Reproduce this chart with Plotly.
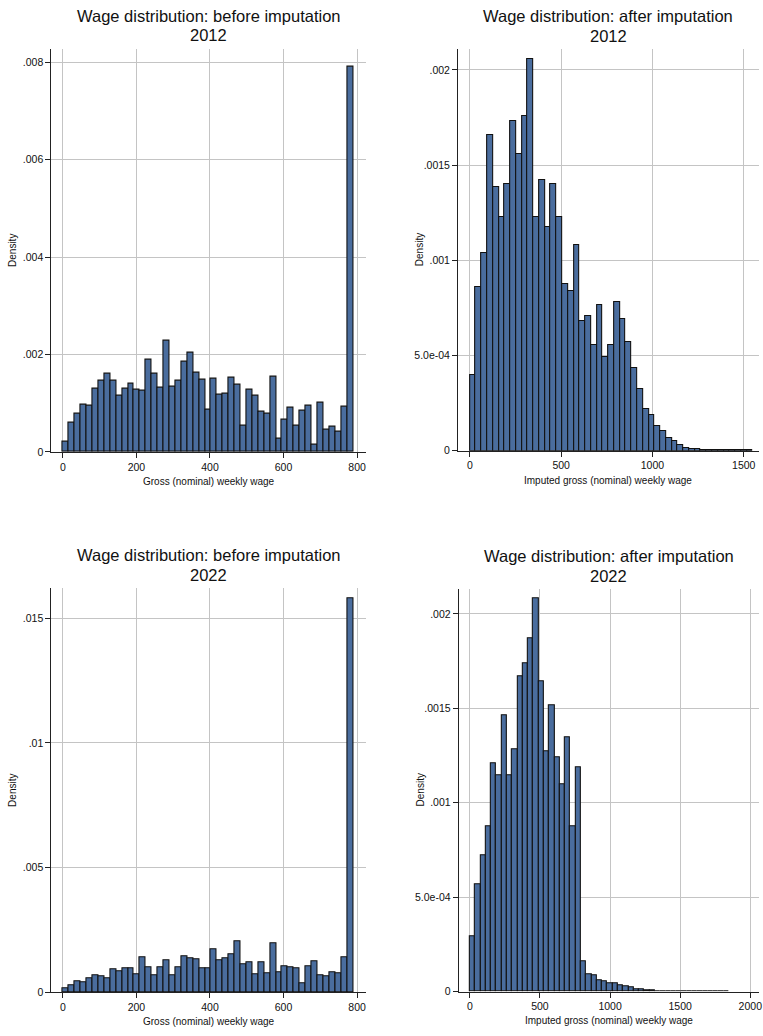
import numpy as np
import plotly.graph_objects as go

# ---------------- data ----------------
# bin starts and widths (wage units)
bins_2012_before = (0.0, 16.1)
bins_2012_after = (0.0, 31.6)
bins_2022_before = (0.0, 16.1)
bins_2022_after = (0.0, 37.7)

dens_2012_before = [
    0.00020, 0.00059, 0.00078, 0.00097, 0.00095, 0.00129, 0.00146, 0.00160, 0.00146, 0.00116,
    0.00129, 0.00140, 0.00127, 0.00125, 0.00190, 0.00160, 0.00132, 0.00228, 0.00134, 0.00147,
    0.00185, 0.00203, 0.00163, 0.00149, 0.00087, 0.00150, 0.00118, 0.00120, 0.00152, 0.00137,
    0.00054, 0.00127, 0.00116, 0.00083, 0.00079, 0.00154, 0.00026, 0.00067, 0.00091, 0.00054,
    0.00084, 0.00095, 0.00014, 0.00101, 0.00046, 0.00052, 0.00042, 0.00093, 0.00792,
]

dens_2012_after = [
    0.000397, 0.00086, 0.00104, 0.00166, 0.001385, 0.00123, 0.00140, 0.00173, 0.00156, 0.00176,
    0.00206, 0.00123, 0.00142, 0.001175, 0.00140, 0.00123, 0.000878, 0.00084, 0.00108, 0.00068,
    0.00071, 0.000557, 0.000767, 0.000493, 0.000557, 0.000779, 0.00069, 0.000571, 0.000432, 0.000324,
    0.000218, 0.000186, 0.000129, 0.000105, 0.000066, 0.000052, 0.000031, 0.000012, 0.000009, 0.000007,
    0.000005, 0.000003, 0.000002, 0.000002, 0.000001, 0.000002, 0.000001, 0.000002, 0.000002,
]

dens_2022_before = [
    0.00017, 0.00029, 0.00045, 0.00040, 0.00057, 0.00068, 0.00064, 0.00057, 0.00093, 0.00085,
    0.00098, 0.00095, 0.00074, 0.00139, 0.00099, 0.00068, 0.00099, 0.00127, 0.00068, 0.00099,
    0.00143, 0.00135, 0.00131, 0.00095, 0.00098, 0.00171, 0.00130, 0.00135, 0.00153, 0.00206,
    0.00114, 0.00121, 0.00070, 0.00121, 0.00078, 0.00195, 0.00080, 0.00103, 0.00099, 0.00097,
    0.00036, 0.00103, 0.00123, 0.00066, 0.00064, 0.00080, 0.00078, 0.00139, 0.01580,
]

dens_2022_after = [
    0.000295, 0.00057, 0.000723, 0.000874, 0.00121, 0.001144, 0.001465, 0.001147, 0.001284, 0.001668,
    0.001737, 0.001868, 0.002084, 0.001642, 0.00127, 0.001516, 0.00124, 0.001095, 0.001346, 0.000877,
    0.00119, 0.000158, 0.0000912, 0.000086, 0.00006, 0.0000526, 0.0000456, 0.000042, 0.0000333, 0.000028,
    0.000021, 0.0000123, 0.0000105, 0.000007, 0.000005, 0.000004, 0.000003, 0.000003, 0.000002, 0.000001,
    0.0, 0.0, 0.0, 0.0, 0.000002, 0.0, 0.0, 0.0, 0.000001,
]

ticks_before_2012 = [0, 0.002, 0.004, 0.006, 0.008]
ticklab_before_2012 = ["0", ".002", ".004", ".006", ".008"]
ticks_after = [0, 0.0005, 0.001, 0.0015, 0.002]
ticklab_after = ["0", "5.0e-04", ".001", ".0015", ".002"]
ticks_before_2022 = [0, 0.005, 0.01, 0.015]
ticklab_before_2022 = ["0", ".005", ".01", ".015"]
xticks_before = [0, 200, 400, 600, 800]
xticks_after_2012 = [0, 500, 1000, 1500]
xticks_after_2022 = [0, 500, 1000, 1500, 2000]

title_before = "Wage distribution: before imputation"
title_after = "Wage distribution: after imputation"
xtitle_before = "Gross (nominal) weekly wage"
xtitle_after = "Imputed gross (nominal) weekly wage"
ytitle = "Density"

# ---------------- layout helpers ----------------
W, H = 763, 1036
FONT = "Liberation Sans, Arial, sans-serif"
BAR_FILL = "#4a6d9e"
GRID = "#c4c4c4"


def fx(a):
    return a / W


def fy(a):
    return 1 - a / H


panels = [
    dict(vals=dens_2012_before, bins=bins_2012_before, xd=(51.7, 367), yd=(49, 454.5),
         xr=(-31, 823), yr=(0, 0.00828), ytv=ticks_before_2012, ytt=ticklab_before_2012,
         xtv=xticks_before, t1=title_before, t2="2012", xt=xtitle_before),
    dict(vals=dens_2012_after, bins=bins_2012_after, xd=(460, 761.7), yd=(49.3, 453.3),
         xr=(-64, 1582), yr=(0, 0.00211), ytv=ticks_after, ytt=ticklab_after,
         xtv=xticks_after_2012, t1=title_after, t2="2012", xt=xtitle_after),
    dict(vals=dens_2022_before, bins=bins_2022_before, xd=(51.7, 367), yd=(591.7, 998),
         xr=(-31, 823), yr=(0, 0.0162), ytv=ticks_before_2022, ytt=ticklab_before_2022,
         xtv=xticks_before, t1=title_before, t2="2022", xt=xtitle_before),
    dict(vals=dens_2022_after, bins=bins_2022_after, xd=(460.7, 761.7), yd=(592.7, 997.3),
         xr=(-78, 2060), yr=(0, 0.00213), ytv=ticks_after, ytt=ticklab_after,
         xtv=xticks_after_2022, t1=title_after, t2="2022", xt=xtitle_after),
]

fig = go.Figure()
annotations = []
layout_axes = {}

for i, p in enumerate(panels, start=1):
    start, bw = p["bins"]
    n = len(p["vals"])
    centers = start + bw * (np.arange(n) + 0.5)
    sfx = "" if i == 1 else str(i)
    fig.add_trace(go.Bar(
        x=centers, y=p["vals"], width=bw,
        marker=dict(color=BAR_FILL, line=dict(color="#111111", width=1.1)),
        xaxis="x" + sfx, yaxis="y" + sfx, showlegend=False, hoverinfo="x+y",
    ))
    layout_axes["xaxis" + sfx] = dict(
        domain=[fx(p["xd"][0]), fx(p["xd"][1])], anchor="y" + sfx,
        range=list(p["xr"]), tickvals=p["xtv"], ticktext=[str(v) for v in p["xtv"]],
        showgrid=True, gridcolor=GRID, gridwidth=1, zeroline=False,
        showline=True, linecolor="#222222", linewidth=1.3,
        ticks="outside", ticklen=5, tickcolor="#222222", tickwidth=1,
        ticklabeloverflow="allow",
        tickfont=dict(family=FONT, size=10.5, color="#111111"),
    )
    layout_axes["yaxis" + sfx] = dict(
        domain=[fy(p["yd"][1]), fy(p["yd"][0])], anchor="x" + sfx,
        range=list(p["yr"]), tickvals=p["ytv"], ticktext=p["ytt"],
        showgrid=True, gridcolor=GRID, gridwidth=1, zeroline=False,
        showline=True, linecolor="#222222", linewidth=1.3,
        ticks="outside", ticklen=5, tickcolor="#222222", tickwidth=1,
        tickfont=dict(family=FONT, size=10.5, color="#111111"),
    )
    cx = fx((p["xd"][0] + p["xd"][1]) / 2)
    top = p["yd"][0]
    bottom = p["yd"][1]
    annotations.append(dict(text=p["t1"], x=cx, y=fy(top - 33), xref="paper", yref="paper",
                            showarrow=False, xanchor="center", yanchor="middle",
                            font=dict(family=FONT, size=16.5, color="#111111")))
    annotations.append(dict(text=p["t2"], x=cx, y=fy(top - 13.5), xref="paper", yref="paper",
                            showarrow=False, xanchor="center", yanchor="middle",
                            font=dict(family=FONT, size=16.5, color="#111111")))
    annotations.append(dict(text=p["xt"], x=cx, y=fy(bottom + 29.5), xref="paper", yref="paper",
                            showarrow=False, xanchor="center", yanchor="middle",
                            font=dict(family=FONT, size=10, color="#111111")))
    annotations.append(dict(text=ytitle, x=fx(p["xd"][0] - 39), y=fy((top + bottom) / 2),
                            xref="paper", yref="paper", textangle=-90,
                            showarrow=False, xanchor="center", yanchor="middle",
                            font=dict(family=FONT, size=10, color="#111111")))

fig.update_layout(
    width=W, height=H, margin=dict(l=0, r=0, t=0, b=0),
    paper_bgcolor="white", plot_bgcolor="white",
    bargap=0, annotations=annotations, **layout_axes,
)

fig.write_html("out.html")
